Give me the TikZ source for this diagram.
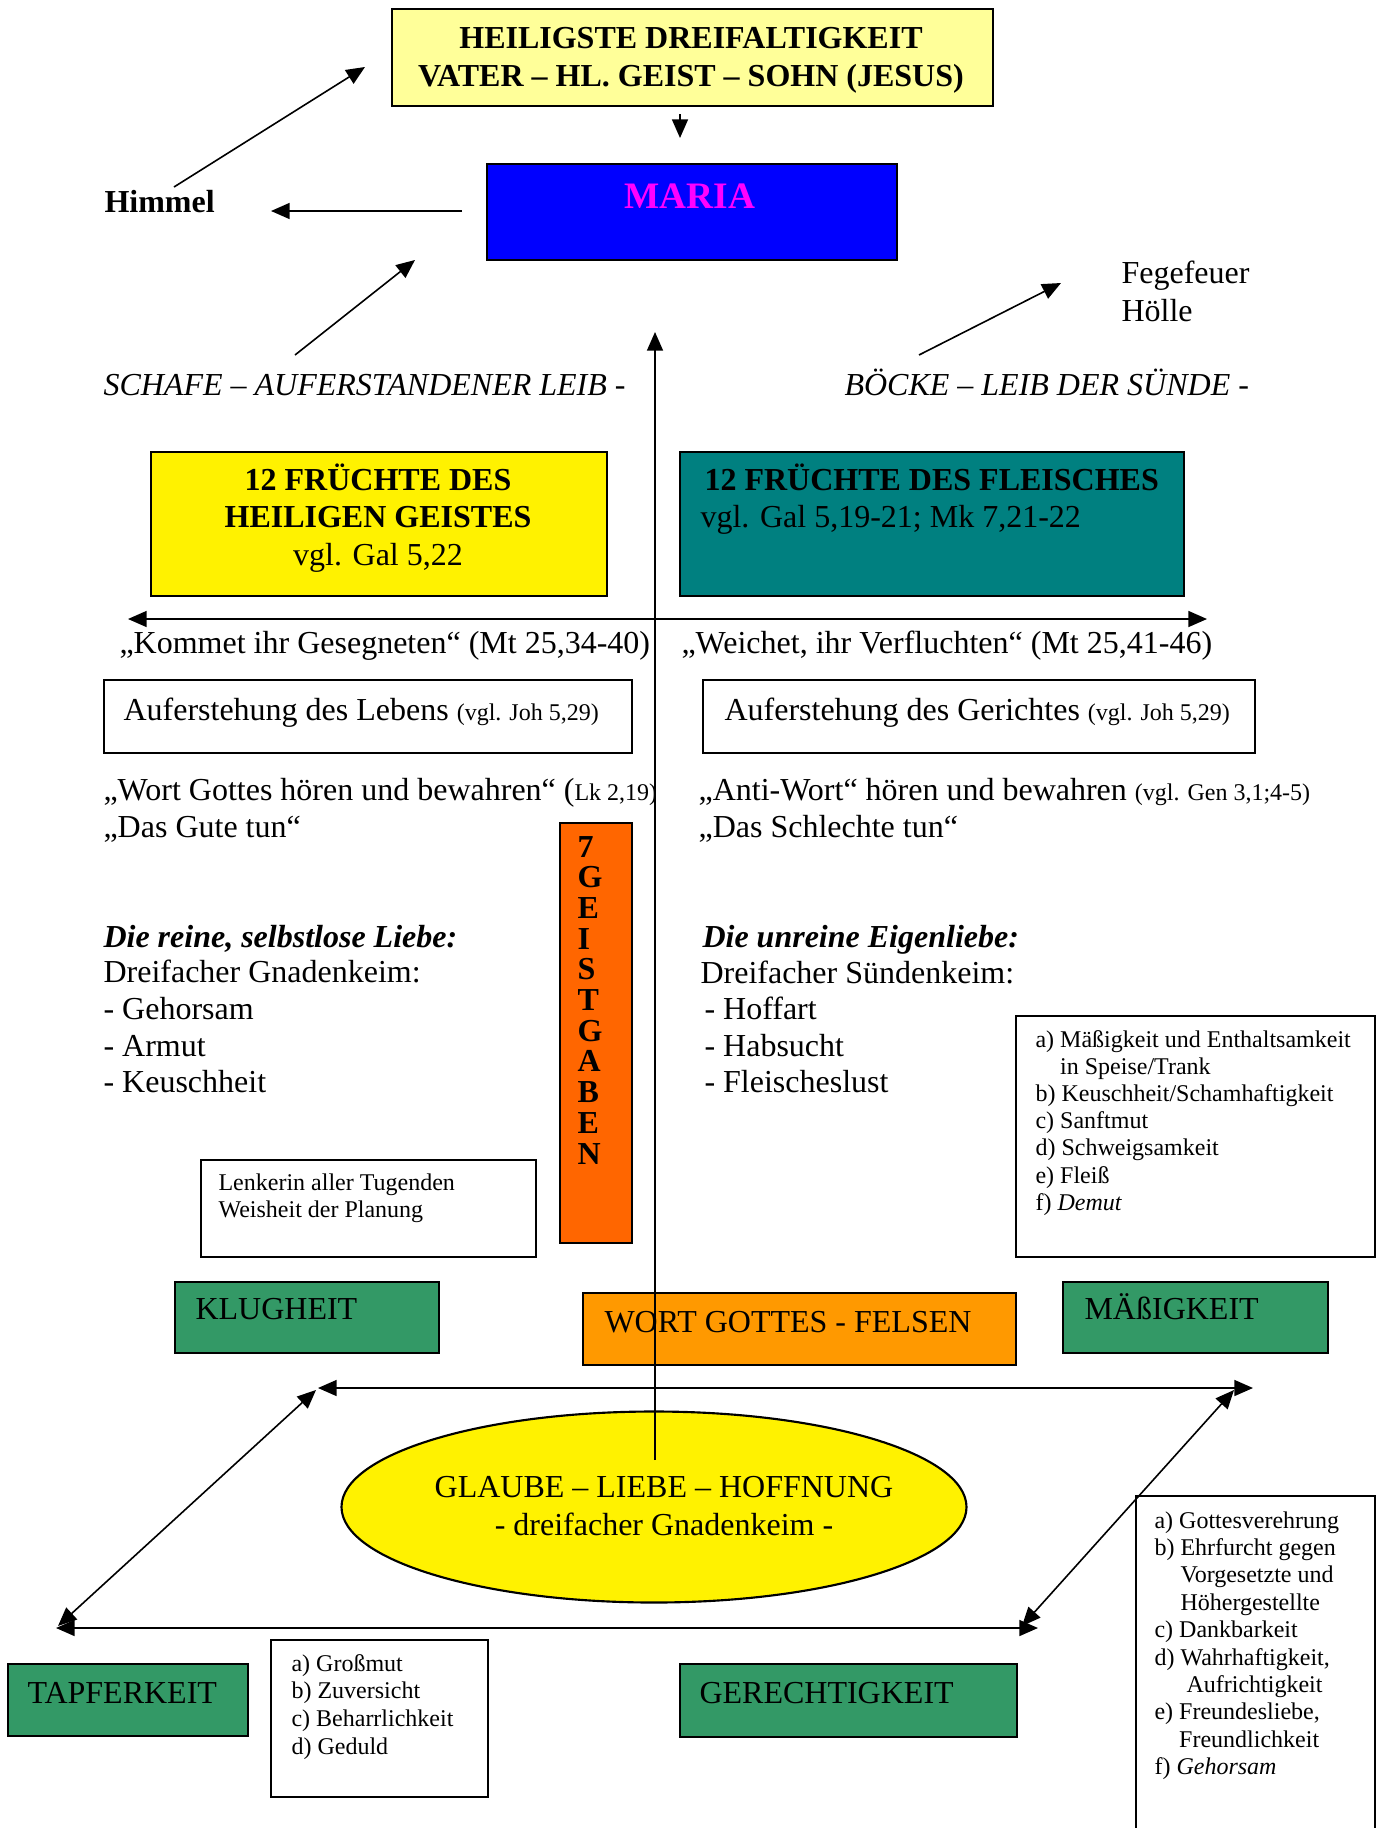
\documentclass[tikz,border=0pt]{standalone}
\usepackage{fontspec}
\setmainfont{Liberation Serif}
\usetikzlibrary{arrows.meta,shapes.geometric}

\definecolor{paleyellow}{HTML}{FFFF99}
\definecolor{mariablue}{HTML}{0000FF}
\definecolor{mariapink}{HTML}{FF00FF}
\definecolor{fruitteal}{HTML}{008080}
\definecolor{gabenorange}{HTML}{FF6600}
\definecolor{virtuegreen}{HTML}{339966}
\definecolor{felsorange}{HTML}{FF9900}

\newcommand{\smallref}{\fontsize{9pt}{10.4pt}\selectfont}

\begin{document}
\begin{tikzpicture}[x=0.375pt,y=-0.375pt,
  txt/.style={inner sep=0pt,anchor=base west,font=\fontsize{12pt}{13.8pt}\selectfont},
  bold/.style={txt,font=\fontsize{12pt}{13.8pt}\selectfont\bfseries},
  small/.style={txt,font=\fontsize{9pt}{10.4pt}\selectfont},
  box/.style={draw=black,line width=0.8pt,anchor=north west,inner sep=0pt},
  dims/.style 2 args={minimum width=#1*0.375pt,minimum height=#2*0.375pt},
  conn/.style={-{Triangle[length=7pt,width=6pt]},line width=0.6pt},
  both/.style={{Triangle[length=7pt,width=6pt]}-{Triangle[length=7pt,width=6pt]},line width=0.6pt}]
  \useasboundingbox (0,0) rectangle (1382,1828);

  % Dreifaltigkeit und Maria
  \node[box,fill=paleyellow,dims={601}{97}] (trinity) at (391,8) {};
  \node[bold,anchor=base] (trin1) at (691,48) {HEILIGSTE DREIFALTIGKEIT};
  \node[bold,anchor=base] (trin2) at (691,86) {VATER – HL. GEIST – SOHN (JESUS)};
  \node[box,fill=mariablue,dims={410}{96}] (maria) at (486,163) {};
  \node[txt,anchor=base,text=mariapink,font=\fontsize{14pt}{16pt}\selectfont\bfseries] (marialbl) at (690,208) {MARIA};

  \node[bold] (himmel) at (104,212) {Himmel};
  \node[txt] (fegefeuer) at (1121,283) {Fegefeuer};
  \node[txt] (hoelle) at (1121,321) {Hölle};
  \node[txt,font=\fontsize{12pt}{13.8pt}\selectfont\itshape] (schafe) at (103,395) {SCHAFE – AUFERSTANDENER LEIB -};
  \node[txt,font=\fontsize{12pt}{13.8pt}\selectfont\itshape] (boecke) at (844,395) {BÖCKE – LEIB DER SÜNDE -};

  % Früchte
  \node[box,fill=yellow,dims={456}{144}] (fruitsgood) at (150,451) {};
  \node[bold,anchor=base] (fg1) at (378,490) {12 FRÜCHTE DES};
  \node[bold,anchor=base] (fg2) at (378,527) {HEILIGEN GEISTES};
  \node[txt,anchor=base] (fg3) at (378,565) {vgl. Gal 5,22};
  \node[box,fill=fruitteal,dims={504}{144}] (fruitsbad) at (679,451) {};
  \node[bold] (fb1) at (704,490) {12 FRÜCHTE DES FLEISCHES};
  \node[txt] (fb2) at (700,527) {vgl. Gal 5,19-21; Mk 7,21-22};

  \node[txt] (kommet) at (119,653) {„Kommet ihr Gesegneten“ (Mt 25,34-40)};
  \node[txt] (weichet) at (681,653) {„Weichet, ihr Verfluchten“ (Mt 25,41-46)};

  \node[box,dims={528}{73}] (lebens) at (103,679) {};
  \node[txt] (lebenslbl) at (123,720) {Auferstehung des Lebens {\smallref (vgl. Joh 5,29)}};
  \node[box,dims={552}{73}] (gerichts) at (702,679) {};
  \node[txt] (gerichtslbl) at (724,720) {Auferstehung des Gerichtes {\smallref (vgl. Joh 5,29)}};

  \node[txt] (wort) at (103,800) {„Wort Gottes hören und bewahren“ ({\smallref Lk 2,19)}};
  \node[txt] (gute) at (103,837) {„Das Gute tun“};
  \node[txt] (antiwort) at (698,800) {„Anti-Wort“ hören und bewahren {\smallref (vgl. Gen 3,1;4-5)}};
  \node[txt] (schlechte) at (698,837) {„Das Schlechte tun“};

  % 7 Geistgaben
  \node[box,fill=gabenorange,dims={72}{420}] (gaben) at (559,822) {};
  \foreach \c [count=\i from 0] in {7,G,E,I,S,T,G,A,B,E,N}
    \node[bold] (gabe\i) at (577,857+30.7*\i) {\c};

  % Liebe / Eigenliebe
  \node[txt,font=\fontsize{12pt}{13.8pt}\selectfont\bfseries\itshape] (reine) at (103,947) {Die reine, selbstlose Liebe:};
  \foreach \t [count=\i from 1] in {Dreifacher Gnadenkeim:,- Gehorsam,- Armut,- Keuschheit}
    \node[txt] (gnade\i) at (103,946+36.7*\i) {\t};
  \node[txt,font=\fontsize{12pt}{13.8pt}\selectfont\bfseries\itshape] (unreine) at (702,947) {Die unreine Eigenliebe:};
  \node[txt] (suende1) at (700,983) {Dreifacher Sündenkeim:};
  \foreach \t [count=\i from 2] in {- Hoffart,- Habsucht,- Fleischeslust}
    \node[txt] (suende\i) at (704,946+36.7*\i) {\t};

  \node[box,dims={335}{97}] (lenkerin) at (200,1159) {};
  \node[small] (lenk1) at (218,1190) {Lenkerin aller Tugenden};
  \node[small] (lenk2) at (218,1217) {Weisheit der Planung};

  \node[box,dims={359}{241}] (massliste) at (1015,1015) {};
  \foreach \t [count=\i from 0] in {a) Mäßigkeit und Enthaltsamkeit,{\hphantom{a) }in Speise/Trank},
      b) Keuschheit/Schamhaftigkeit,c) Sanftmut,d) Schweigsamkeit,e) Fleiß,f) \textit{Demut}}
    \node[small] (mass\i) at (1035,1047+27.2*\i) {\t};

  % Kardinaltugenden
  \node[box,fill=virtuegreen,dims={264}{71}] (klugheit) at (174,1281) {};
  \node[txt] (klugheitlbl) at (195,1319) {KLUGHEIT};
  \node[box,fill=felsorange,dims={433}{72}] (felsen) at (582,1292) {};
  \node[txt] (felsenlbl) at (604,1332) {WORT GOTTES - FELSEN};
  \node[box,fill=virtuegreen,dims={265}{71}] (massigkeit) at (1062,1281) {};
  \node[txt] (massigkeitlbl) at (1084,1319) {MÄßIGKEIT};

  \node[ellipse,draw=black,line width=0.8pt,fill=yellow,inner sep=0pt,dims={625}{191}] (glaube) at (654,1507) {};
  \node[txt,anchor=base] (glaube1) at (664,1497) {GLAUBE – LIEBE – HOFFNUNG};
  \node[txt,anchor=base] (glaube2) at (664,1535) {- dreifacher Gnadenkeim -};

  \node[box,fill=virtuegreen,dims={240}{72}] (tapferkeit) at (7,1663) {};
  \node[txt] (tapferkeitlbl) at (27,1703) {TAPFERKEIT};
  \node[box,dims={217}{157}] (tapferliste) at (270,1639) {};
  \foreach \t [count=\i from 0] in {a) Großmut,b) Zuversicht,c) Beharrlichkeit,d) Geduld}
    \node[small] (tapf\i) at (291,1671+27.7*\i) {\t};

  \node[box,fill=virtuegreen,dims={337}{73}] (gerechtigkeit) at (679,1663) {};
  \node[txt] (gerechtigkeitlbl) at (699,1703) {GERECHTIGKEIT};
  \node[box,dims={239}{400}] (gerechtliste) at (1135,1495) {};
  \foreach \t [count=\i from 0] in {a) Gottesverehrung,b) Ehrfurcht gegen,{\hphantom{b) }Vorgesetzte und},
      {\hphantom{b) }Höhergestellte},c) Dankbarkeit,{d) Wahrhaftigkeit,},{\hphantom{d)\ \ }Aufrichtigkeit},
      {e) Freundesliebe,},{\hphantom{e) }Freundlichkeit},f) \textit{Gehorsam}}
    \node[small] (gerecht\i) at (1154,1528+27.4*\i) {\t};

  % Verbindungen
  \coordinate (trinOut) at (680,114);
  \coordinate (mariaIn) at (680,138);
  \coordinate (mariaOut) at (462,211);
  \coordinate (himmelIn) at (271,211);
  \coordinate (himmelOut) at (174,187);
  \coordinate (trinIn) at (365,67);
  \coordinate (schafeOut) at (295,355);
  \coordinate (mariaLow) at (415,260);
  \coordinate (boeckeOut) at (919,355);
  \coordinate (fegeIn) at (1061,283);
  \coordinate (stemBot) at (655,1460);
  \coordinate (stemTop) at (655,332);
  \coordinate (judgeL) at (128,619);
  \coordinate (judgeR) at (1207,619);
  \coordinate (pTL) at (318,1388);
  \coordinate (pTR) at (1253,1388);
  \coordinate (pBL) at (56,1628);
  \coordinate (pBR) at (1038,1628);
  \coordinate (ldTop) at (316,1390);
  \coordinate (ldBot) at (58,1626);
  \coordinate (rdTop) at (1234,1390);
  \coordinate (rdBot) at (1022,1626);

  \draw[conn] (trinOut) -- (mariaIn);
  \draw[conn] (mariaOut) -- (himmelIn);
  \draw[conn] (himmelOut) -- (trinIn);
  \draw[conn] (schafeOut) -- (mariaLow);
  \draw[conn] (boeckeOut) -- (fegeIn);
  \draw[conn] (stemBot) -- (stemTop);
  \draw[both] (judgeL) -- (judgeR);
  \foreach \from/\to in {pTL/pTR, pBL/pBR, ldTop/ldBot, rdTop/rdBot}
    \draw[both] (\from) -- (\to);
\end{tikzpicture}
\end{document}
